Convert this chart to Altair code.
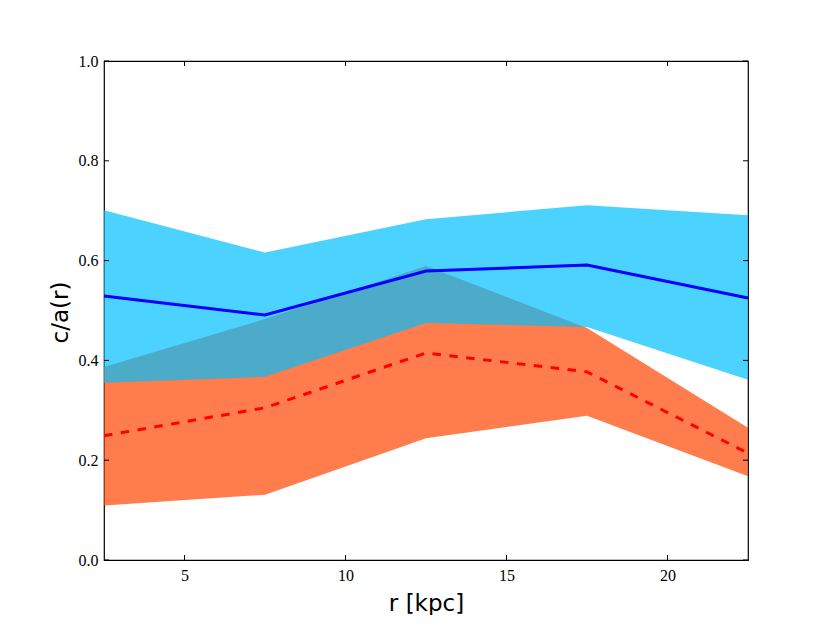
import altair as alt
import pandas as pd

r = [2.5, 7.5, 12.5, 17.5, 22.5]
blue_mean = [0.529, 0.491, 0.579, 0.591, 0.525]
blue_hi = [0.701, 0.616, 0.683, 0.711, 0.691]
blue_lo = [0.355, 0.367, 0.475, 0.467, 0.361]
orange_mean = [0.249, 0.305, 0.415, 0.377, 0.214]
orange_hi = [0.387, 0.483, 0.589, 0.465, 0.265]
orange_lo = [0.109, 0.131, 0.244, 0.289, 0.168]

x_ticks = [5, 10, 15, 20]
y_ticks = [0.0, 0.2, 0.4, 0.6, 0.8, 1.0]

df = pd.DataFrame({
    "r": r,
    "blue_mean": blue_mean, "blue_hi": blue_hi, "blue_lo": blue_lo,
    "orange_mean": orange_mean, "orange_hi": orange_hi, "orange_lo": orange_lo,
})
xt = pd.DataFrame({"t": x_ticks})
yt = pd.DataFrame({"t": y_ticks})

W, H = 644, 499
SERIF = "Liberation Serif"
SANS = "DejaVu Sans"

xscale = alt.Scale(domain=[2.5, 22.5], nice=False, zero=False)
yscale = alt.Scale(domain=[0.0, 1.0], nice=False, zero=False)

xaxis = alt.Axis(values=x_ticks, format="d", title="r [kpc]", ticks=False,
                 grid=False, domain=False, labelFont=SERIF, labelFontSize=16,
                 labelColor="black", labelPadding=7, titleFont=SANS,
                 titleFontSize=23, titleFontWeight="normal", titleColor="black",
                 titleY=50, titleBaseline="alphabetic")
yaxis = alt.Axis(values=y_ticks, format=".1f", title="c/a(r)", ticks=False,
                 grid=False, domain=False, labelFont=SERIF, labelFontSize=16,
                 labelColor="black", labelPadding=6, titleFont=SANS,
                 titleFontSize=23, titleFontWeight="normal", titleColor="black",
                 titleX=-37, titleY=251, titleBaseline="alphabetic")

base = alt.Chart(df)

orange_band = base.mark_area(color="#FF4500", opacity=0.7).encode(
    x=alt.X("r:Q", scale=xscale, axis=xaxis),
    y=alt.Y("orange_lo:Q", scale=yscale, axis=yaxis),
    y2="orange_hi:Q",
)
blue_band = base.mark_area(color="#00BFFF", opacity=0.7).encode(
    x=alt.X("r:Q", scale=xscale),
    y=alt.Y("blue_lo:Q", scale=yscale),
    y2="blue_hi:Q",
)
blue_line = base.mark_line(color="#0000FF", strokeWidth=3).encode(
    x=alt.X("r:Q", scale=xscale),
    y=alt.Y("blue_mean:Q", scale=yscale),
)
red_line = base.mark_line(color="#FF0000", strokeWidth=3,
                          strokeDash=[8.5, 8.5]).encode(
    x=alt.X("r:Q", scale=xscale),
    y=alt.Y("orange_mean:Q", scale=yscale),
)

TL = 5
xt_bottom = alt.Chart(xt).mark_rule(color="black", strokeWidth=1).encode(
    x=alt.X("t:Q", scale=xscale), y=alt.value(H), y2=alt.value(H - TL))
xt_top = alt.Chart(xt).mark_rule(color="black", strokeWidth=1).encode(
    x=alt.X("t:Q", scale=xscale), y=alt.value(0), y2=alt.value(TL))
yt_left = alt.Chart(yt).mark_rule(color="black", strokeWidth=1).encode(
    y=alt.Y("t:Q", scale=yscale), x=alt.value(0), x2=alt.value(TL))
yt_right = alt.Chart(yt).mark_rule(color="black", strokeWidth=1).encode(
    y=alt.Y("t:Q", scale=yscale), x=alt.value(W), x2=alt.value(W - TL))

chart = alt.layer(
    orange_band, blue_band, blue_line, red_line,
    xt_bottom, xt_top, yt_left, yt_right,
).properties(
    width=W, height=H,
    autosize=alt.AutoSizeParams(type="none"),
    padding={"left": 96, "top": 53, "right": 74, "bottom": 55},
    background="white",
).configure_view(
    stroke="black", strokeWidth=1.2, fill="white",
)

chart.save("out.html", embed_options={"renderer": "svg", "actions": False})
